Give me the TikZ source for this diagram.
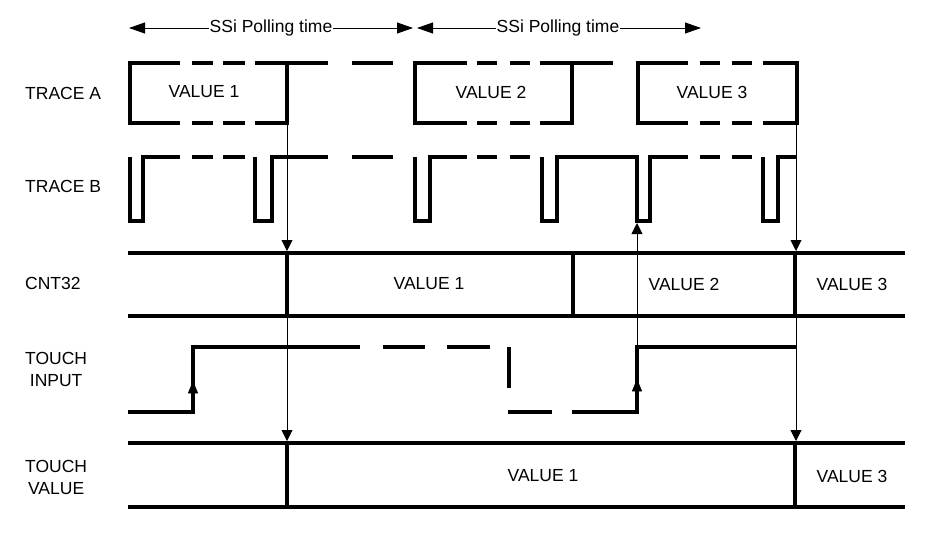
\documentclass[tikz,border=0pt]{standalone}
\usepackage{fontspec}
\setmainfont{Liberation Sans}
\usetikzlibrary{arrows.meta}
\begin{document}
\begin{tikzpicture}[x=1pt,y=-1pt,
  sig/.style={line width=3.5pt,line join=miter},
  bus/.style={line width=4pt},
  edge/.style={line width=3.6pt},
  link/.style={line width=0.9pt},
  tipdown/.style={-{Triangle[length=11pt,width=11pt]}},
  lbl/.style={font=\fontsize{17.5}{22}\selectfont, inner sep=0pt},
  side/.style={lbl, anchor=west, align=center}
]
\useasboundingbox (0,0) rectangle (950,538);

% ---------- top polling-time arrows ----------
\node[lbl, fill=white, inner xsep=1pt] (p1) at (271,28) {SSi Polling time};
\node[lbl, fill=white, inner xsep=1pt] (p2) at (558,28) {SSi Polling time};
\coordinate (p1a) at (129,28);
\coordinate (p1b) at (413,28);
\coordinate (p2a) at (417,28);
\coordinate (p2b) at (701,28);
\draw[link,{Triangle[length=16pt,width=11pt]}-] (p1a) -- (p1.west);
\draw[link,-{Triangle[length=16pt,width=11pt]}] (p1.east) -- (p1b);
\draw[link,{Triangle[length=16pt,width=11pt]}-] (p2a) -- (p2.west);
\draw[link,-{Triangle[length=16pt,width=11pt]}] (p2.east) -- (p2b);

% ---------- side labels ----------
\node[side] (la) at (25,93) {TRACE A};
\node[side] (lb) at (25,186) {TRACE B};
\node[side] (lc) at (25,283) {CNT32};
\node[side] (li) at (25,369) {TOUCH\\INPUT};
\node[side] (lv) at (25,477) {TOUCH\\VALUE};

% ---------- TRACE A ----------
\draw[sig] (180,63) -- (130,63) -- (130,123) -- (180,123);
\foreach \a/\b in {192/213,223/245}{
  \draw[sig] (\a,63) -- (\b,63);
  \draw[sig] (\a,123) -- (\b,123);}
\draw[sig] (255,123) -- (287,123) -- (287,63);
\draw[sig] (255,63) -- (328,63);
\draw[sig] (352,63) -- (393,63);
\node[lbl] (ta1) at (204,92) {VALUE 1};

\draw[sig] (467,63) -- (415,63) -- (415,123) -- (467,123);
\foreach \a/\b in {477/497,510/530}{
  \draw[sig] (\a,63) -- (\b,63);
  \draw[sig] (\a,123) -- (\b,123);}
\draw[sig] (540,123) -- (572,123) -- (572,63);
\draw[sig] (540,63) -- (613,63);
\node[lbl] (ta2) at (491,92) {VALUE 2};

\draw[sig] (688,63) -- (638,63) -- (638,123) -- (688,123);
\foreach \a/\b in {700/720,732/752}{
  \draw[sig] (\a,63) -- (\b,63);
  \draw[sig] (\a,123) -- (\b,123);}
\draw[sig] (763,123) -- (797,123) -- (797,63) -- (763,63);
\node[lbl] (ta3) at (712,92) {VALUE 3};

% ---------- TRACE B ----------
\draw[sig] (130,157) -- (130,221) -- (143,221) -- (143,157) -- (180,157);
\draw[sig] (255,157) -- (255,221) -- (272,221) -- (272,157) -- (328,157);
\draw[sig] (352,157) -- (393,157);
\draw[sig] (415,157) -- (415,221) -- (430,221) -- (430,157) -- (467,157);
\draw[sig] (542,157) -- (542,221) -- (557,221) -- (557,157) -- (637,157)
  -- (637,221) -- (650,221) -- (650,157) -- (688,157);
\draw[sig] (763,157) -- (763,221) -- (778,221) -- (778,157) -- (797,157);
\foreach \a/\b in {192/213,223/245,477/497,510/530,700/720,732/752}{
  \draw[sig] (\a,157) -- (\b,157);}

% ---------- CNT32 ----------
\draw[bus] (128,253) -- (905,253);
\draw[bus] (128,316) -- (905,316);
\foreach \x in {287,573,795}{\draw[edge] (\x,253) -- (\x,316);}
\node[lbl] (c1) at (429,284) {VALUE 1};
\node[lbl] (c2) at (684,284) {VALUE 2};
\node[lbl] (c3) at (852,284) {VALUE 3};

% ---------- TOUCH INPUT ----------
\draw[sig] (128,412) -- (193,412) -- (193,347) -- (360,347);
\draw[sig] (383,347) -- (425,347);
\draw[sig] (447,347) -- (490,347);
\draw[sig] (509,347) -- (509,388);
\draw[sig] (508,412) -- (552,412);
\draw[sig] (572,412) -- (637,412) -- (637,347) -- (797,347);
\draw[link,fill=black] (193,382) -- (188.5,393) -- (197.5,393) -- cycle;
\draw[link,fill=black] (637,380) -- (632.5,391) -- (641.5,391) -- cycle;

% ---------- TOUCH VALUE ----------
\draw[bus] (128,443) -- (905,443);
\draw[bus] (128,507) -- (905,507);
\foreach \x in {287,795}{\draw[edge] (\x,443) -- (\x,507);}
\node[lbl] (v1) at (543,476) {VALUE 1};
\node[lbl] (v3) at (852,476) {VALUE 3};

% ---------- causal arrows ----------
\coordinate (a1s) at (287,123);
\coordinate (a1c) at (287,251);
\coordinate (a1v) at (287,441);
\coordinate (a3s) at (796,123);
\coordinate (a3c) at (796,251);
\coordinate (a3v) at (796,441);
\coordinate (a2s) at (637,347);
\coordinate (a2t) at (637,223);
\draw[link,tipdown] (a1s) -- (a1c);
\draw[link,tipdown] (a1c) -- (a1v);
\draw[link,tipdown] (a3s) -- (a3c);
\draw[link,tipdown] (a3c) -- (a3v);
\draw[link,tipdown] (a2s) -- (a2t);
\end{tikzpicture}
\end{document}
